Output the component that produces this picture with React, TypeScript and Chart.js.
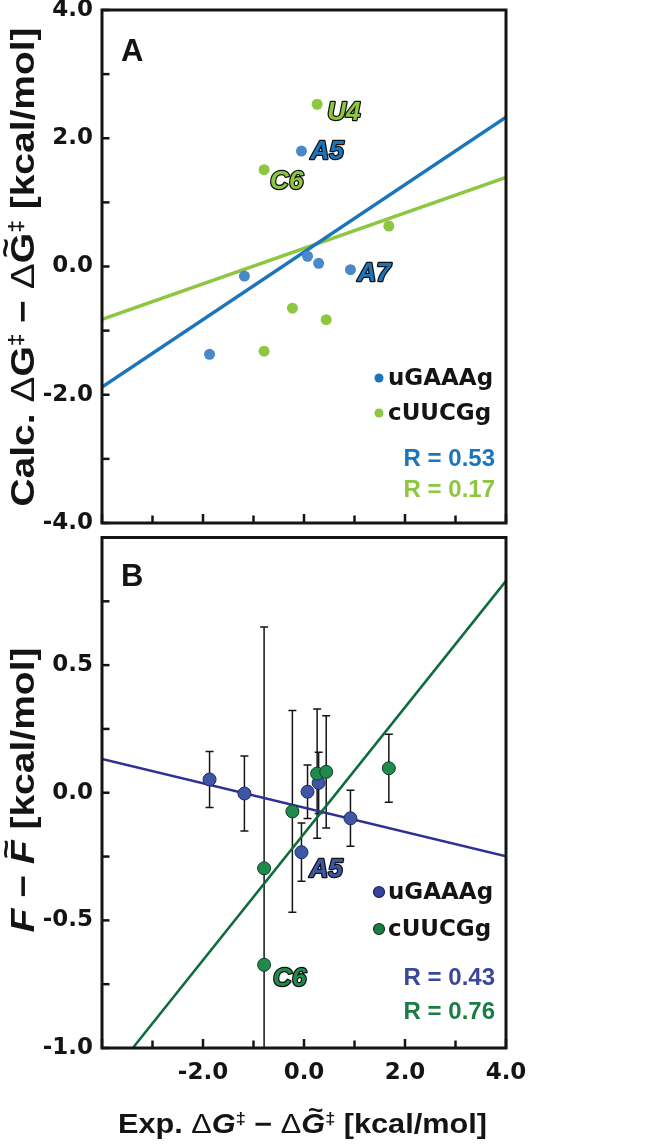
import { useEffect, useRef } from "react";
import { Chart, registerables } from "chart.js";
Chart.register(...registerables);

// ---------------- data ----------------
const blueX = [-1.87, -1.18, -0.05, 0.07, 0.29, 0.92];
const greenX = [-0.79, -0.79, -0.23, 0.26, 0.44, 1.68];
// Panel A (Calc.)
const blueA = [-1.37, -0.15, 1.8, 0.16, 0.05, -0.05];
const greenA = [1.51, -1.32, -0.65, 2.53, -0.83, 0.63];
// Panel B (F - F~)
const blueB = [0.052, -0.003, -0.233, 0.004, 0.039, -0.1];
const blueErrB = [0.11, 0.147, 0.114, 0.105, 0.12, 0.11];
const greenB = [-0.674, -0.296, -0.073, 0.075, 0.082, 0.096];
const greenErrB = [0, 0.945, 0.395, 0.253, 0.22, 0.133];
// regression lines (end points)
const fitX = [-4, 4];
const blueFitA = [-1.88, 2.33];
const greenFitA = [-0.825, 1.39];
const blueFitB = [0.132, -0.249];
const greenFitB = [-1.151, 0.83];
// axes
const xTickVals = [-4, -3, -2, -1, 0, 1, 2, 3, 4];
const xLabelVals = [-2, 0, 2, 4];
const yTickValsA = [-4, -3, -2, -1, 0, 1, 2, 3, 4];
const yLabelValsA = [-4, -2, 0, 2, 4];
const yTickValsB = [-1, -0.75, -0.5, -0.25, 0, 0.25, 0.5, 0.75, 1];
const yLabelValsB = [-1, -0.5, 0, 0.5];
const seriesNames = ["uGAAAg", "cUUCGg"];
const rTextA = ["R = 0.53", "R = 0.17"];
const rTextB = ["R = 0.43", "R = 0.76"];

// ---------------- styling ----------------
const SANS = '"Liberation Sans", Arial, Helvetica, sans-serif';
const DEJA = '"DejaVu Sans", "Liberation Sans", sans-serif';
const INK = "#141414";

type Seg = { t: string; it?: boolean; thin?: boolean; s?: number; up?: number; tilde?: boolean };

function drawRich(
  ctx: CanvasRenderingContext2D,
  segs: Seg[],
  size: number,
  cx: number,
  cy: number,
  rot: number,
  target: number
) {
  ctx.save();
  const fontOf = (g: Seg) =>
    `${g.it ? "italic " : ""}${g.thin ? "normal" : "bold"} ${Math.round(size * (g.s ?? 1))}px ${SANS}`;
  let total = 0;
  const widths = segs.map((g) => {
    ctx.font = fontOf(g);
    const w = ctx.measureText(g.t).width;
    total += w;
    return w;
  });
  const sx = target / total;
  ctx.translate(cx, cy);
  ctx.rotate(rot);
  ctx.scale(sx, 1);
  let x = -total / 2;
  ctx.fillStyle = INK;
  ctx.textBaseline = "alphabetic";
  ctx.textAlign = "left";
  segs.forEach((g, i) => {
    ctx.font = fontOf(g);
    ctx.fillText(g.t, x, -(g.up ?? 0) * size);
    if (g.tilde) {
      ctx.font = `bold ${Math.round(size * 0.85)}px ${SANS}`;
      const tw = ctx.measureText("~").width;
      ctx.fillText("~", x + widths[i] / 2 - tw / 2 + (g.it ? size * 0.08 : 0), -size * 0.57);
    }
    x += widths[i];
  });
  ctx.restore();
}

type LabelSpec = { text: string; x: number; y: number; dx: number; dy: number; fill: string };
type LegendSpec = { text: string; color: string; border?: string; r: number; y: number };
type RSpec = { text: string; color: string; y: number };

interface PanelCfg {
  letter: string;
  letterY: number;
  yTickVals: number[];
  errors: { xs: number[]; ys: number[]; es: number[] }[];
  labels: LabelSpec[];
  legend: LegendSpec[];
  rText: RSpec[];
  titles: (ctx: CanvasRenderingContext2D) => void;
}

function makePlugin(cfg: PanelCfg) {
  return {
    id: "panelDecor" + cfg.letter,
    beforeDatasetsDraw(chart: any) {
      const { ctx, chartArea: a } = chart;
      const xs = chart.scales.x;
      const ys = chart.scales.y;
      ctx.save();
      ctx.beginPath();
      ctx.rect(a.left, a.top, a.right - a.left, a.bottom - a.top);
      ctx.clip();
      ctx.strokeStyle = INK;
      ctx.lineWidth = 1.5;
      cfg.errors.forEach((s) => {
        s.xs.forEach((xv, i) => {
          const e = s.es[i];
          if (!e) return;
          const px = xs.getPixelForValue(xv);
          const p1 = ys.getPixelForValue(s.ys[i] + e);
          const p2 = ys.getPixelForValue(s.ys[i] - e);
          ctx.beginPath();
          ctx.moveTo(px, p1);
          ctx.lineTo(px, p2);
          ctx.moveTo(px - 4, p1);
          ctx.lineTo(px + 4, p1);
          ctx.moveTo(px - 4, p2);
          ctx.lineTo(px + 4, p2);
          ctx.stroke();
        });
      });
      ctx.restore();
    },
    afterDraw(chart: any) {
      const { ctx, chartArea: a } = chart;
      const xs = chart.scales.x;
      const ys = chart.scales.y;
      ctx.save();
      // inward tick marks
      ctx.strokeStyle = INK;
      ctx.lineWidth = 2.5;
      xTickVals.forEach((v) => {
        const px = xs.getPixelForValue(v);
        const len = xLabelVals.includes(v) || v === -4 ? 9 : 7.5;
        ctx.beginPath();
        ctx.moveTo(px, a.bottom);
        ctx.lineTo(px, a.bottom - len);
        ctx.stroke();
      });
      cfg.yTickVals.forEach((v) => {
        const py = ys.getPixelForValue(v);
        ctx.beginPath();
        ctx.moveTo(a.left, py);
        ctx.lineTo(a.left + 7.5, py);
        ctx.stroke();
      });
      // frame
      ctx.lineWidth = 3;
      ctx.strokeRect(a.left, a.top, a.right - a.left, a.bottom - a.top);
      // panel letter
      ctx.fillStyle = INK;
      ctx.font = `bold 31px ${SANS}`;
      ctx.textAlign = "left";
      ctx.textBaseline = "alphabetic";
      ctx.fillText(cfg.letter, a.left + 19, cfg.letterY);
      // point labels
      ctx.font = `italic bold 26px ${SANS}`;
      ctx.textBaseline = "middle";
      ctx.lineJoin = "round";
      cfg.labels.forEach((l) => {
        const px = xs.getPixelForValue(l.x) + l.dx;
        const py = ys.getPixelForValue(l.y) + l.dy;
        ctx.lineWidth = 2.5;
        ctx.strokeStyle = "#111";
        ctx.strokeText(l.text, px, py);
        ctx.fillStyle = l.fill;
        ctx.fillText(l.text, px, py);
      });
      // legend
      cfg.legend.forEach((g) => {
        ctx.beginPath();
        ctx.arc(a.right - 127, g.y, g.r, 0, Math.PI * 2);
        ctx.fillStyle = g.color;
        ctx.fill();
        if (g.border) {
          ctx.lineWidth = 1.2;
          ctx.strokeStyle = g.border;
          ctx.stroke();
        }
        ctx.fillStyle = INK;
        ctx.font = `bold 23px ${DEJA}`;
        ctx.textAlign = "left";
        ctx.textBaseline = "middle";
        ctx.fillText(g.text, a.right - 118, g.y + 1);
      });
      cfg.rText.forEach((r) => {
        ctx.fillStyle = r.color;
        ctx.font = `bold 24px ${SANS}`;
        ctx.textAlign = "right";
        ctx.textBaseline = "middle";
        ctx.fillText(r.text, a.right - 11, r.y);
      });
      ctx.restore();
      cfg.titles(ctx);
    },
  };
}

const pts = (xs: number[], ys: number[]) => xs.map((x, i) => ({ x, y: ys[i] }));
const fmt = (v: number) => v.toFixed(1);
const near = (arr: number[], v: number) => arr.some((a) => Math.abs(a - v) < 1e-6);

function buildChart(
  canvas: HTMLCanvasElement,
  datasets: any[],
  yMin: number,
  yMax: number,
  yStep: number,
  yLabels: number[],
  showXLabels: boolean,
  xHeight: number,
  padTop: number,
  padBottom: number,
  plugin: any
) {
  const tickFont = { family: DEJA, size: 23, weight: "bold" as const };
  return new Chart(canvas, {
    type: "scatter",
    data: { datasets },
    options: {
      animation: false,
      responsive: false,
      maintainAspectRatio: false,
      events: [],
      layout: { padding: { left: 0, right: 144, top: padTop, bottom: padBottom } },
      plugins: { legend: { display: false }, tooltip: { enabled: false } },
      scales: {
        x: {
          type: "linear",
          min: -4,
          max: 4,
          grid: { display: false, drawTicks: false },
          border: { display: false },
          afterFit: (s: any) => {
            s.height = xHeight;
            s.paddingLeft = 0;
            s.paddingRight = 0;
          },
          ticks: {
            display: showXLabels,
            stepSize: 1,
            autoSkip: false,
            maxRotation: 0,
            padding: 11,
            color: INK,
            font: tickFont,
            callback: (v: any) => (near(xLabelVals, Number(v)) ? fmt(Number(v)) : ""),
          },
        },
        y: {
          type: "linear",
          min: yMin,
          max: yMax,
          grid: { display: false, drawTicks: false },
          border: { display: false },
          afterFit: (s: any) => {
            s.width = 102;
            s.paddingTop = 0;
            s.paddingBottom = 0;
          },
          ticks: {
            stepSize: yStep,
            autoSkip: false,
            padding: 9,
            color: INK,
            font: tickFont,
            callback: (v: any) => (near(yLabels, Number(v)) ? fmt(Number(v)) : ""),
          },
        },
      },
    },
    plugins: [plugin],
  } as any);
}

export default function App() {
  const refA = useRef<HTMLCanvasElement>(null);
  const refB = useRef<HTMLCanvasElement>(null);

  useEffect(() => {
    const blueA_c = "#4a88c9";
    const blueLineA = "#1b75bc";
    const greenA_c = "#8dc63f";
    const blueB_c = "#3f56a6";
    const blueLineB = "#2e3192";
    const greenB_c = "#1f8a4c";
    const greenLineB = "#0f6b3c";

    const pluginA = makePlugin({
      letter: "A",
      letterY: 61,
      yTickVals: yTickValsA,
      errors: [],
      labels: [
        { text: "U4", x: greenX[3], y: greenA[3], dx: 10, dy: 9, fill: greenA_c },
        { text: "A5", x: blueX[2], y: blueA[2], dx: 9, dy: 1, fill: blueLineA },
        { text: "C6", x: greenX[0], y: greenA[0], dx: 6, dy: 12, fill: greenA_c },
        { text: "A7", x: blueX[5], y: blueA[5], dx: 7, dy: 4, fill: blueLineA },
      ],
      legend: [
        { text: seriesNames[0], color: blueLineA, r: 4.5, y: 378 },
        { text: seriesNames[1], color: greenA_c, r: 4.5, y: 413 },
      ],
      rText: [
        { text: rTextA[0], color: blueLineA, y: 459 },
        { text: rTextA[1], color: greenA_c, y: 490 },
      ],
      titles: (ctx) => {
        drawRich(
          ctx,
          [
            { t: "Calc. " },
            { t: "Δ", thin: true },
            { t: "G" },
            { t: "‡", s: 0.6, up: 0.32 },
            { t: " − " },
            { t: "Δ", thin: true },
            { t: "G", tilde: true },
            { t: "‡", s: 0.6, up: 0.32 },
            { t: " [kcal/mol]" },
          ],
          34,
          34,
          267,
          -Math.PI / 2,
          479
        );
      },
    });

    const pluginB = makePlugin({
      letter: "B",
      letterY: 56,
      yTickVals: yTickValsB,
      errors: [
        { xs: blueX, ys: blueB, es: blueErrB },
        { xs: greenX, ys: greenB, es: greenErrB },
      ],
      labels: [
        { text: "A5", x: blueX[2], y: blueB[2], dx: 8, dy: 18, fill: blueB_c },
        { text: "C6", x: greenX[0], y: greenB[0], dx: 9, dy: 14, fill: greenB_c },
      ],
      legend: [
        { text: seriesNames[0], color: "#34449a", border: "#1a2355", r: 5.5, y: 362 },
        { text: seriesNames[1], color: "#1b7d45", border: "#0b3b20", r: 5.5, y: 399 },
      ],
      rText: [
        { text: rTextB[0], color: "#3a479b", y: 448 },
        { text: rTextB[1], color: "#1a7d43", y: 482 },
      ],
      titles: (ctx) => {
        drawRich(
          ctx,
          [{ t: "F", it: true }, { t: " − " }, { t: "F", it: true, tilde: true }, { t: " [kcal/mol]" }],
          33,
          34,
          260,
          -Math.PI / 2,
          285
        );
        drawRich(
          ctx,
          [
            { t: "Exp. " },
            { t: "Δ", thin: true },
            { t: "G", it: true },
            { t: "‡", s: 0.6, up: 0.32 },
            { t: " − " },
            { t: "Δ", thin: true },
            { t: "G", it: true, tilde: true },
            { t: "‡", s: 0.6, up: 0.32 },
            { t: " [kcal/mol]" },
          ],
          27,
          302.5,
          603,
          0,
          369
        );
      },
    });

    const dsA = [
      { data: pts(fitX, greenFitA), showLine: true, borderColor: greenA_c, borderWidth: 3.5, pointRadius: 0, order: 3, clip: 0 },
      { data: pts(fitX, blueFitA), showLine: true, borderColor: blueLineA, borderWidth: 3.5, pointRadius: 0, order: 2, clip: 0 },
      { data: pts(blueX, blueA), pointRadius: 5.5, backgroundColor: blueA_c, borderWidth: 0, order: 1 },
      { data: pts(greenX, greenA), pointRadius: 5.5, backgroundColor: greenA_c, borderWidth: 0, order: 0 },
    ];
    const dsB = [
      { data: pts(fitX, blueFitB), showLine: true, borderColor: blueLineB, borderWidth: 2.5, pointRadius: 0, order: 3, clip: 0 },
      { data: pts(fitX, greenFitB), showLine: true, borderColor: greenLineB, borderWidth: 2.5, pointRadius: 0, order: 2, clip: 0 },
      { data: pts(blueX, blueB), pointRadius: 6.5, backgroundColor: blueB_c, borderColor: "#1f2a5c", borderWidth: 1, order: 1 },
      { data: pts(greenX, greenB), pointRadius: 6.5, backgroundColor: greenB_c, borderColor: "#0c3f22", borderWidth: 1, order: 0 },
    ];

    const cA = buildChart(refA.current!, dsA, -4, 4, 1, yLabelValsA, false, 0, 10, 17, pluginA);
    const cB = buildChart(refB.current!, dsB, -1, 1, 0.25, yLabelValsB, true, 50, 3, 46, pluginB);
    return () => {
      cA.destroy();
      cB.destroy();
    };
  }, []);

  return (
    <div style={{ position: "absolute", left: 0, top: 0, width: 650, height: 1144, background: "#fff" }}>
      <canvas ref={refA} width={650} height={540} style={{ position: "absolute", left: 0, top: 0, width: 650, height: 540 }} />
      <canvas ref={refB} width={650} height={614} style={{ position: "absolute", left: 0, top: 530, width: 650, height: 614 }} />
    </div>
  );
}
